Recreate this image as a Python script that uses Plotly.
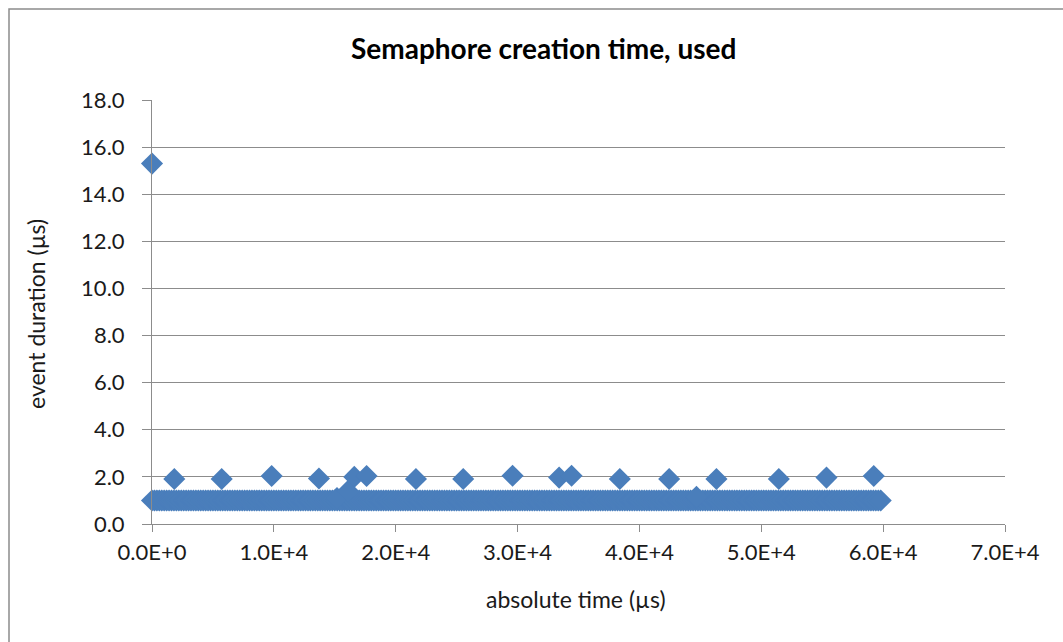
import plotly.graph_objects as go

# Semaphore creation events: absolute time (µs) vs. event duration (µs)
# Regular creation events, roughly every 200 µs, each taking about 1.0 µs
base_start, base_end, base_step = 0, 59800, 200
base_duration = 1.0

# Slower creation events
slow_times = [0, 1830, 5720, 9820, 13700, 15180, 16080, 16600, 17610, 21660,
              25540, 29590, 33410, 34430, 38390, 42440, 44680, 46320,
              51440, 55350, 59230]
slow_durations = [15.3, 1.91, 1.91, 2.04, 1.93, 1.1, 1.4, 2.0, 2.04, 1.91,
                  1.91, 2.05, 1.97, 2.05, 1.91, 1.91, 1.15, 1.91,
                  1.91, 1.97, 2.04]

x_tick_values = [0, 10000, 20000, 30000, 40000, 50000, 60000, 70000]
x_tick_labels = ["0.0E+0", "1.0E+4", "2.0E+4", "3.0E+4", "4.0E+4",
                 "5.0E+4", "6.0E+4", "7.0E+4"]
y_tick_values = [0, 2, 4, 6, 8, 10, 12, 14, 16, 18]

base_times = list(range(base_start, base_end + 1, base_step))
base_durations = [base_duration for _ in base_times]

W, H = 1063, 642
L, R, T, B = 152, 58, 100, 118
FONT = "Lato, Open Sans, sans-serif"
BLUE = "#4A7EBB"
GRID = "#8C8C8C"
TEXT = "#1a1a1a"

marker = dict(symbol="diamond", size=17, color=BLUE, line=dict(width=0))

fig = go.Figure()
fig.add_trace(go.Scatter(x=base_times, y=base_durations, mode="markers",
                         marker=marker, cliponaxis=False, showlegend=False,
                         hoverinfo="x+y"))
fig.add_trace(go.Scatter(x=slow_times, y=slow_durations, mode="markers",
                         marker=marker, cliponaxis=False, showlegend=False,
                         hoverinfo="x+y"))


def px_x(p):
    return (p - L) / (W - L - R)


def px_y(p):
    return (H - B - p) / (H - T - B)


def label(text, x, y, size, color=TEXT, angle=0):
    return dict(text=text, x=px_x(x), y=px_y(y), xref="paper", yref="paper",
                xanchor="center", yanchor="middle", showarrow=False,
                textangle=angle, font=dict(size=size, family=FONT, color=color))


fig.update_layout(
    width=W, height=H,
    margin=dict(l=L, r=R, t=T, b=B),
    paper_bgcolor="white", plot_bgcolor="white",
    font=dict(family=FONT, color=TEXT),
    xaxis=dict(range=[0, 70000], tickvals=x_tick_values, ticktext=x_tick_labels,
               showgrid=False, zeroline=False, showline=True, linecolor=GRID,
               linewidth=1, ticks="outside", ticklen=7, tickcolor=GRID,
               tickfont=dict(size=22, family=FONT, color=TEXT),
               ticklabelstandoff=2),
    yaxis=dict(range=[0, 18], tickvals=y_tick_values, tickformat=".1f",
               showgrid=True, gridcolor=GRID, gridwidth=1, zeroline=False,
               showline=True, linecolor=GRID, linewidth=1,
               ticks="outside", ticklen=9, tickcolor=GRID,
               tickfont=dict(size=22, family=FONT, color=TEXT),
               ticklabelstandoff=13),
    annotations=[
        label("<b>Semaphore creation time, used</b>", 543, 48, 28, "#000000"),
        label("absolute time (µs)", 576, 599, 23),
        label("event duration (µs)", 36, 314, 23, angle=-90),
    ],
    shapes=[
        dict(type="rect", xref="paper", yref="paper",
             x0=px_x(9), y0=px_y(660), x1=px_x(1080), y1=px_y(9),
             line=dict(color="#8C8C8C", width=1.5), fillcolor="rgba(0,0,0,0)",
             layer="below"),
    ],
)

fig.write_html("out.html")
